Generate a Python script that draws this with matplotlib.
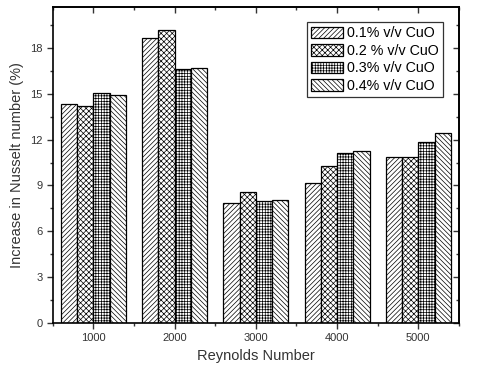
import matplotlib
matplotlib.use("Agg")
import matplotlib.pyplot as plt
import numpy as np
from matplotlib.ticker import MultipleLocator

plt.rcParams['font.family'] = ['Liberation Sans', 'DejaVu Sans']
plt.rcParams['hatch.linewidth'] = 0.5

reynolds = [1000, 2000, 3000, 4000, 5000]
labels = ['0.1% v/v CuO', '0.2 % v/v CuO', '0.3% v/v CuO', '0.4% v/v CuO']
cuo_01 = [14.32, 18.62, 7.88, 9.15, 10.83]
cuo_02 = [14.23, 19.19, 8.56, 10.24, 10.89]
cuo_03 = [15.02, 16.61, 7.99, 11.11, 11.87]
cuo_04 = [14.95, 16.70, 8.05, 11.28, 12.46]

series = [cuo_01, cuo_02, cuo_03, cuo_04]
hatches = ['/' * 7, 'x' * 6, '+' * 6, '\\' * 7]

fig = plt.figure(figsize=(4.8, 3.72), dpi=100)
ax = fig.add_axes([0.110, 0.132, 0.846, 0.850])

x = np.array(reynolds)
w = 200
for i, (vals, h, lab) in enumerate(zip(series, hatches, labels)):
    ax.bar(x + (i - 1.5) * w, vals, width=w, facecolor='white',
           edgecolor='black', linewidth=0.9, hatch=h, label=lab)

ax.set_xlim(500, 5500)
ax.set_ylim(0, 20.7)
ax.set_xticks(reynolds)
ax.xaxis.set_minor_locator(MultipleLocator(500))
ax.yaxis.set_major_locator(MultipleLocator(3))
ax.yaxis.set_minor_locator(MultipleLocator(1.5))

ax.tick_params(which='both', direction='out', labelsize=8,
               colors='#333333', labelcolor='#333333')
ax.tick_params(which='major', length=4, width=1)
ax.tick_params(which='minor', length=2.5, width=1)
for spine in ax.spines.values():
    spine.set_linewidth(1.2)

# mirrored ticks on top/right point inward
sec_x = ax.secondary_xaxis('top')
sec_x.set_xticks(reynolds)
sec_x.set_xticklabels([])
sec_x.xaxis.set_minor_locator(MultipleLocator(500))
sec_y = ax.secondary_yaxis('right')
sec_y.yaxis.set_major_locator(MultipleLocator(3))
sec_y.yaxis.set_minor_locator(MultipleLocator(1.5))
sec_y.set_yticklabels([])
for sec in (sec_x, sec_y):
    sec.tick_params(which='both', direction='in', width=1, colors='#333333')
    sec.tick_params(which='major', length=4)
    sec.tick_params(which='minor', length=2.5)
    for spine in sec.spines.values():
        spine.set_linewidth(1.2)

ax.set_xlabel('Reynolds Number', fontsize=10.5, color='#333333')
ax.set_ylabel('Increase in Nusselt number (%)', fontsize=10.5, color='#333333')

leg = ax.legend(loc='upper right', bbox_to_anchor=(0.9606, 0.9516), fontsize=10.3,
                frameon=True, fancybox=False, edgecolor='black',
                handlelength=2.2, handleheight=0.86, handletextpad=0.3,
                labelspacing=0.25, borderpad=0.3, borderaxespad=0)
leg.get_frame().set_linewidth(0.9)

fig.savefig('out.png', dpi=100)
